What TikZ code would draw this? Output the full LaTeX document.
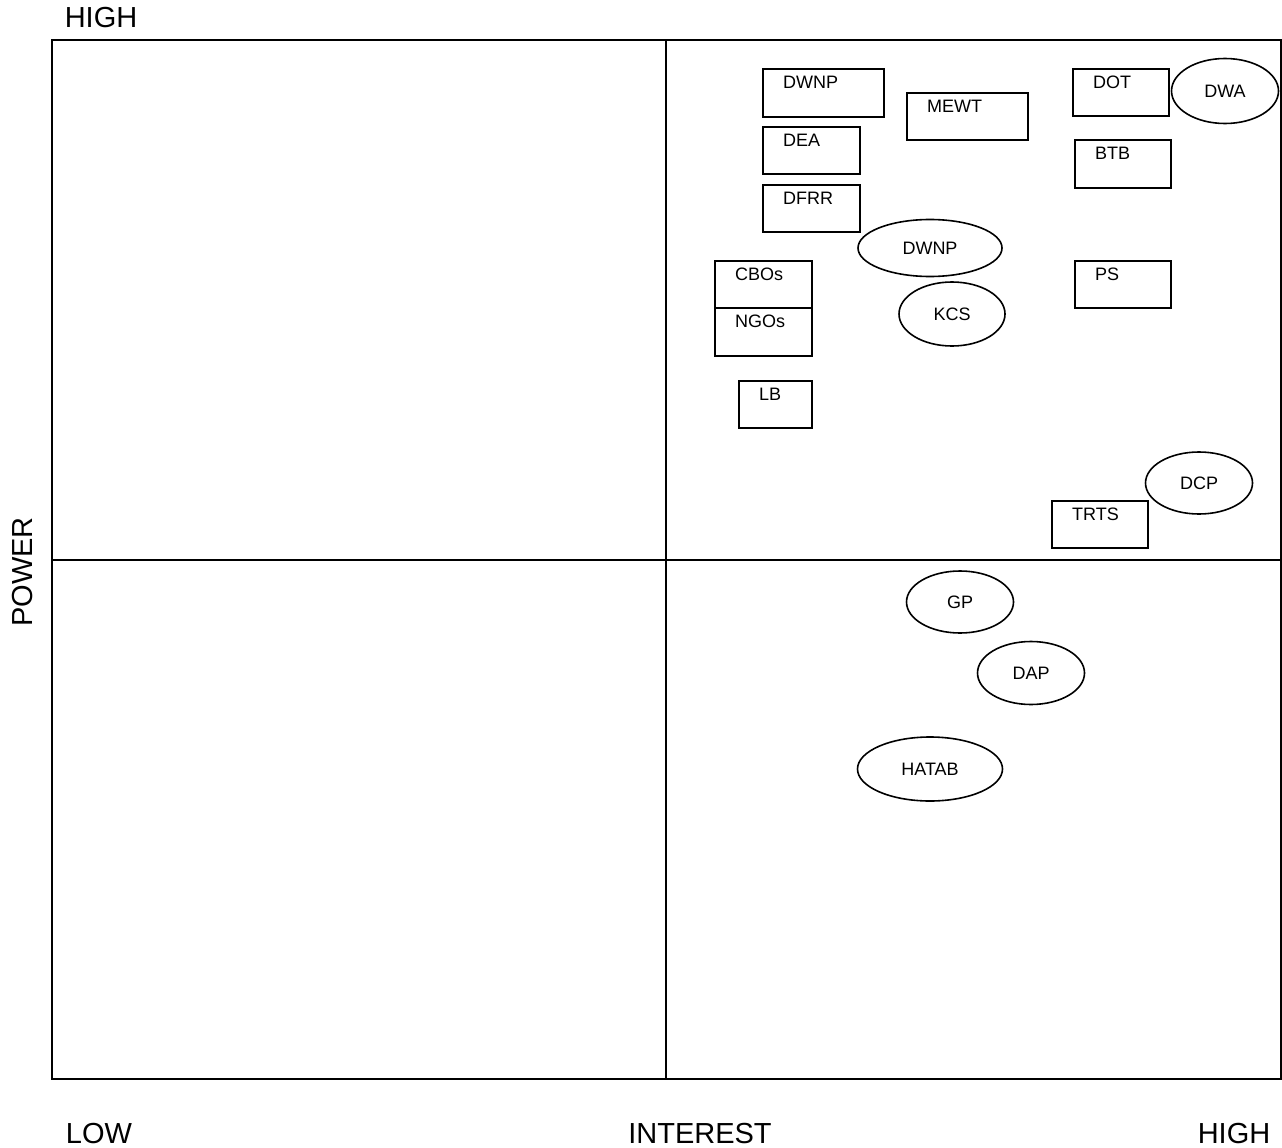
\documentclass[tikz,border=0pt]{standalone}
\usepackage{fontspec}
\setmainfont{Liberation Sans}
\usetikzlibrary{shapes.geometric}
\tikzset{
  frame/.style={line width=1.8pt},
  box/.style={draw, line width=1.6pt, rectangle, inner sep=0pt, anchor=north west},
  lbl/.style={anchor=north west, inner sep=0pt, xshift=21pt, yshift=-8pt, font=\fontsize{18}{20}\selectfont},
  oval/.style={draw, line width=1.6pt, ellipse, inner sep=0pt, font=\fontsize{18}{20}\selectfont},
  axis/.style={font=\fontsize{29}{32}\selectfont, inner sep=0pt}
}
\begin{document}
\begin{tikzpicture}[x=1pt,y=-1pt]
\useasboundingbox (0,0) rectangle (1282,1148);
% frame
\coordinate (tl) at (52,40);
\coordinate (br) at (1281,1079);
\coordinate (vt) at (666,40);
\coordinate (vb) at (666,1079);
\coordinate (hl) at (52,560);
\coordinate (hr) at (1281,560);
\draw[frame] (tl) rectangle (br);
\draw[frame] (vt) -- (vb);
\draw[frame] (hl) -- (hr);
% axis labels
\node[axis] (hightop) at (101,18) {HIGH};
\node[axis, rotate=90] (power) at (23,572) {POWER};
\node[axis] (low) at (99,1134) {LOW};
\node[axis] (interest) at (700,1134) {INTEREST};
\node[axis] (highr) at (1234,1134) {HIGH};
% boxes
\node[box, minimum width=121pt, minimum height=48pt, label={[lbl]north west:DWNP}] (dwnpbox) at (762,68) {};
\node[box, minimum width=121pt, minimum height=47pt, label={[lbl]north west:MEWT}] (mewt) at (906,92) {};
\node[box, minimum width=97pt, minimum height=47pt, label={[lbl]north west:DEA}] (dea) at (762,126) {};
\node[box, minimum width=97pt, minimum height=47pt, label={[lbl]north west:DFRR}] (dfrr) at (762,184) {};
\node[box, minimum width=97pt, minimum height=47pt, label={[lbl]north west:CBOs}] (cbos) at (714,260) {};
\node[box, minimum width=97pt, minimum height=48pt, label={[lbl]north west:NGOs}] (ngos) at (714,307) {};
\node[box, minimum width=73pt, minimum height=47pt, label={[lbl]north west:LB}] (lb) at (738,380) {};
\node[box, minimum width=96pt, minimum height=47pt, label={[lbl]north west:DOT}] (dot) at (1072,68) {};
\node[box, minimum width=96pt, minimum height=48pt, label={[lbl]north west:BTB}] (btb) at (1074,139) {};
\node[box, minimum width=96pt, minimum height=47pt, label={[lbl]north west:PS}] (ps) at (1074,260) {};
\node[box, minimum width=96pt, minimum height=47pt, label={[lbl]north west:TRTS}] (trts) at (1051,500) {};
% ellipses
\node[oval, minimum width=144pt, minimum height=57pt] (dwnpell) at (930,248) {DWNP};
\node[oval, minimum width=106pt, minimum height=64pt] (kcs) at (952,314) {KCS};
\node[oval, minimum width=107pt, minimum height=65pt] (dwa) at (1225,91) {DWA};
\node[oval, minimum width=107pt, minimum height=62pt] (dcp) at (1199,483) {DCP};
\node[oval, minimum width=107pt, minimum height=62pt] (gp) at (960,602) {GP};
\node[oval, minimum width=107pt, minimum height=63pt] (dap) at (1031,673) {DAP};
\node[oval, minimum width=145pt, minimum height=64pt] (hatab) at (930,769) {HATAB};
\end{tikzpicture}
\end{document}
